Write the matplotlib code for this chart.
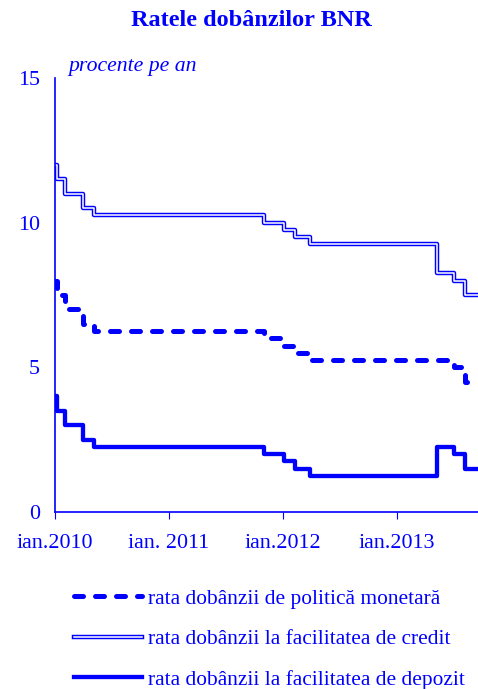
import pandas as pd
import matplotlib
matplotlib.use("Agg")
from matplotlib import pyplot as plt
from matplotlib.lines import Line2D
from matplotlib.legend_handler import HandlerTuple

# Rate change dates and BNR interest rates (percent per year)
dates = pd.to_datetime(['2010-01-01', '2010-01-06', '2010-02-03', '2010-03-31',
                        '2010-05-05', '2011-11-02', '2012-01-05', '2012-02-08',
                        '2012-03-29', '2013-05-08', '2013-07-02', '2013-08-06',
                        '2013-09-20'])
policy = [8.0, 7.5, 7.0, 6.5, 6.25, 6.0, 5.75, 5.5, 5.25, 5.25, 5.0, 4.5, 4.5]
credit = [12.0, 11.5, 11.0, 10.5, 10.25, 10.0, 9.75, 9.5, 9.25, 8.25, 8.0, 7.5, 7.5]
deposit = [4.0, 3.5, 3.0, 2.5, 2.25, 2.0, 1.75, 1.5, 1.25, 2.25, 2.0, 1.5, 1.5]

tick_dates = pd.to_datetime(['2010-01-01', '2011-01-01', '2012-01-01', '2013-01-01'])
tick_labels = ['ian.2010', 'ian. 2011', 'ian.2012', 'ian.2013']
labels = ['rata dobânzii de politică monetară',
          'rata dobânzii la facilitatea de credit',
          'rata dobânzii la facilitatea de depozit']

blue = '#0000ff'
plt.rcParams['font.family'] = ['Liberation Serif', 'DejaVu Serif']

fig = plt.figure(figsize=(4.78, 6.89), dpi=100)
ax = fig.add_axes([55/478, 1-512/689, 1-55/478, (512-78)/689])

# Plot data.
ax.plot(dates, policy, drawstyle='steps-post', color=blue, lw=3.6,
        dashes=(1.8, 2.4), dash_capstyle='round', solid_capstyle='butt')
ax.plot(dates, credit, drawstyle='steps-post', color=blue, lw=3.2)
ax.plot(dates, credit, drawstyle='steps-post', color='white', lw=1.1)
ax.plot(dates, deposit, drawstyle='steps-post', color=blue, lw=3.1)

# Format plot.
ax.set_xlim(pd.Timestamp('2010-01-01'), pd.Timestamp('2013-09-17'))
ax.set_ylim(0, 15)
ax.set_yticks([0, 5, 10, 15])
ax.set_xticks(tick_dates)
ax.set_xticklabels(tick_labels)
for s in ['top', 'right']:
    ax.spines[s].set_visible(False)
for s in ['left', 'bottom']:
    ax.spines[s].set_color(blue)
    ax.spines[s].set_linewidth(1.2)
ax.tick_params(axis='y', length=0, pad=11, labelsize=15.8, labelcolor=blue)
ax.tick_params(axis='x', length=5, width=0.8, color=blue, pad=10.5,
               labelsize=15.8, labelcolor=blue)

fig.text(251/478, 1-20/689, 'Ratele dobânzilor BNR', ha='center', va='center',
         fontsize=17.5, fontweight='bold', color=blue)
fig.text(68/478, 1-67/689, 'procente pe an', ha='left', va='center',
         fontsize=15.7, style='italic', color=blue)

h_policy = Line2D([], [], color=blue, lw=3.6, dashes=(1.8, 2.4),
                  dash_capstyle='round')
h_credit = (Line2D([], [], color=blue, lw=3.2),
            Line2D([], [], color='white', lw=1.1))
h_deposit = Line2D([], [], color=blue, lw=3.1)
leg = fig.legend([h_policy, h_credit, h_deposit], labels,
                 handler_map={tuple: HandlerTuple(ndivide=1, pad=0)},
                 loc='upper left', bbox_to_anchor=(65/478, 1-580/689),
                 frameon=False, fontsize=15.4, handlelength=3.2,
                 handletextpad=0.3, labelspacing=0.96, borderaxespad=0)
for t in leg.get_texts():
    t.set_color(blue)

fig.savefig('out.png', dpi=100)
